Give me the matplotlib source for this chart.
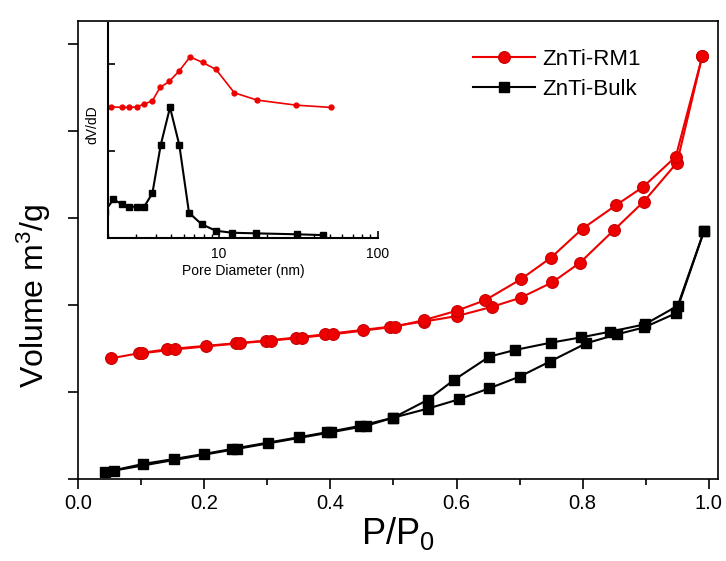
import matplotlib
matplotlib.use("Agg")
import matplotlib.pyplot as plt
from matplotlib.ticker import (MultipleLocator, NullFormatter, FixedLocator,
                               FixedFormatter, FormatStrFormatter)

plt.rcParams['font.family'] = ['Liberation Sans', 'DejaVu Sans']
plt.rcParams['mathtext.fontset'] = 'custom'
plt.rcParams['mathtext.rm'] = 'Liberation Sans'
plt.rcParams['mathtext.it'] = 'Liberation Sans'

# isotherm data (P/P0, volume in arbitrary units)
rm1_ads_x = [0.052, 0.096, 0.14, 0.202, 0.25, 0.297, 0.345, 0.392, 0.451, 0.494,
             0.549, 0.601, 0.657, 0.702, 0.752, 0.796, 0.85, 0.897, 0.95, 0.99]
rm1_ads_y = [1.387, 1.445, 1.49, 1.53, 1.56, 1.59, 1.625, 1.663, 1.713, 1.75,
             1.81, 1.873, 1.98, 2.084, 2.26, 2.486, 2.862, 3.187, 3.636, 4.86]
rm1_des_x = [0.99, 0.948, 0.896, 0.853, 0.80, 0.75, 0.702, 0.646, 0.601, 0.549,
             0.502, 0.404, 0.355, 0.306, 0.256, 0.154, 0.101]
rm1_des_y = [4.86, 3.705, 3.356, 3.146, 2.877, 2.544, 2.295, 2.057, 1.935, 1.827,
             1.75, 1.663, 1.625, 1.59, 1.56, 1.49, 1.445]

bulk_ads_x = [0.042, 0.102, 0.152, 0.199, 0.244, 0.301, 0.35, 0.394, 0.447, 0.5,
              0.555, 0.604, 0.652, 0.70, 0.748, 0.806, 0.855, 0.898, 0.948, 0.993]
bulk_ads_y = [0.077, 0.172, 0.23, 0.287, 0.345, 0.418, 0.48, 0.537, 0.61, 0.705,
              0.81, 0.916, 1.042, 1.176, 1.349, 1.56, 1.663, 1.743, 1.904, 2.854]
bulk_des_x = [0.993, 0.951, 0.899, 0.844, 0.798, 0.75, 0.693, 0.652, 0.596, 0.554,
              0.5, 0.456, 0.401, 0.251, 0.056]
bulk_des_y = [2.854, 1.99, 1.778, 1.693, 1.628, 1.567, 1.483, 1.406, 1.138, 0.908,
              0.705, 0.61, 0.537, 0.345, 0.096]

# pore size distribution (inset)
rm1_d = [2.09, 2.44, 2.72, 3.03, 3.37, 3.80, 4.25, 4.86, 5.62, 6.57, 7.89, 9.57,
         12.5, 17.4, 30.6, 50.6]
rm1_dv = [1.506, 1.499, 1.499, 1.506, 1.537, 1.575, 1.729, 1.798, 1.92, 2.08,
          2.016, 1.936, 1.667, 1.583, 1.525, 1.499]
bulk_d = [1.9, 2.16, 2.44, 2.72, 3.03, 3.37, 3.80, 4.29, 4.91, 5.62, 6.47, 7.78,
          9.57, 12.1, 17.1, 31.1, 45.0]
bulk_dv = [0.30, 0.441, 0.384, 0.356, 0.356, 0.356, 0.51, 1.066, 1.499, 1.066,
           0.287, 0.154, 0.08, 0.057, 0.05, 0.039, 0.03]

red = '#ee0000'

fig = plt.figure(figsize=(7.26, 5.61), dpi=100)
ax = fig.add_axes([0.108, 0.1462, 0.881, 0.8164])

ax.plot(rm1_ads_x, rm1_ads_y, '-o', color=red, lw=1.5, ms=8.5,
        mfc=red, mec='#c80000', mew=0.8, label='ZnTi-RM1')
ax.plot(rm1_des_x, rm1_des_y, '-o', color=red, lw=1.5, ms=8.5,
        mfc=red, mec='#c80000', mew=0.8)
ax.plot(bulk_ads_x, bulk_ads_y, '-s', color='black', lw=1.5, ms=7.5,
        label='ZnTi-Bulk')
ax.plot(bulk_des_x, bulk_des_y, '-s', color='black', lw=1.5, ms=7.5)

ax.set_xlim(0, 1.015)
ax.set_ylim(0, 5.264)
ax.xaxis.set_major_locator(MultipleLocator(0.2))
ax.xaxis.set_minor_locator(MultipleLocator(0.1))
ax.xaxis.set_major_formatter(FormatStrFormatter('%.1f'))
ax.yaxis.set_major_locator(MultipleLocator(1))
ax.yaxis.set_major_formatter(NullFormatter())
ax.tick_params(axis='both', which='major', direction='out', length=7, width=1.2,
               labelsize=14.5, top=False, right=False)
ax.tick_params(axis='x', which='minor', direction='out', length=4, width=1.2)
for s in ax.spines.values():
    s.set_linewidth(1.2)

ax.set_xlabel(r'$\mathregular{P/P_0}$', fontsize=26, labelpad=2)
ax.set_ylabel(r'Volume m$\mathregular{^3}$/g', fontsize=23)
ax.yaxis.set_label_coords(-0.04, 0.40)

ax.legend(loc='upper left', bbox_to_anchor=(0.603, 0.958), frameon=False,
          fontsize=16, handlelength=2.8, handletextpad=0.3, labelspacing=0.4,
          borderaxespad=0)

# inset: pore size distribution
ins = fig.add_axes([0.149, 0.5763, 0.371, 0.3827])
ins.set_facecolor('none')
ins.semilogx(rm1_d, rm1_dv, '-o', color=red, lw=1.2, ms=3.5)
ins.semilogx(bulk_d, bulk_dv, '-s', color='black', lw=1.5, ms=4)
ins.set_xlim(2, 100)
ins.set_ylim(0, 2.47)
ins.spines['top'].set_visible(False)
ins.spines['right'].set_visible(False)
for s in ['left', 'bottom']:
    ins.spines[s].set_linewidth(1.5)
ins.yaxis.set_major_locator(FixedLocator([0, 1, 2]))
ins.yaxis.set_major_formatter(NullFormatter())
ins.xaxis.set_major_locator(FixedLocator([10, 100]))
ins.xaxis.set_major_formatter(FixedFormatter(['10', '100']))
ins.xaxis.set_minor_locator(FixedLocator([2, 3, 4, 5, 6, 7, 8, 9,
                                          20, 30, 40, 50, 60, 70, 80, 90]))
ins.xaxis.set_minor_formatter(NullFormatter())
ins.tick_params(axis='both', which='major', direction='in', length=5, width=1.2,
                labelsize=10, pad=7)
ins.tick_params(axis='x', which='minor', direction='in', length=3, width=1.0)
ins.set_xlabel('Pore Diameter (nm)', fontsize=10, labelpad=2)
ins.set_ylabel('dV/dD', fontsize=10)
ins.yaxis.set_label_coords(-0.031, 0.525)

fig.savefig('out.png', dpi=100)
